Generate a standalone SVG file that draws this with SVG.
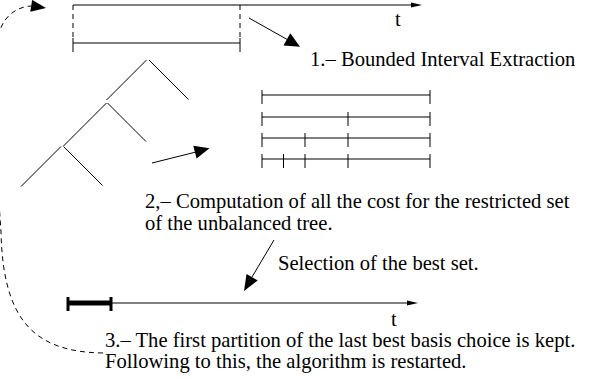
<svg xmlns="http://www.w3.org/2000/svg" width="592" height="379" viewBox="0 0 592 379">
  <style>
    .ln { stroke: #000; stroke-width: 1; fill: none; }
    .dash { stroke: #000; stroke-width: 1; fill: none; stroke-dasharray: 5 4; }
    .head { fill: #000; stroke: none; }
    .lbl { font-family: "Liberation Serif", "Times New Roman", serif; font-size: 20.6px; fill: #000; }
  </style>
  <rect width="592" height="379" fill="#fff"/>

  <!-- time axis with the bounded interval taken from it -->
  <g id="axis-top">
    <line class="ln" x1="73" y1="5" x2="412" y2="5"/>
    <polygon class="head" points="422,5 411,2.5 411,7.5"/>
    <text class="lbl" x="395" y="26">t</text>
  </g>
  <g id="bounded-interval">
    <line class="dash" x1="73" y1="5" x2="73" y2="38"/>
    <line class="dash" x1="240" y1="5" x2="240" y2="38"/>
    <line class="ln" x1="73" y1="43" x2="240" y2="43"/>
    <line class="ln" x1="73" y1="38" x2="73" y2="52"/>
    <line class="ln" x1="240" y1="38" x2="240" y2="52"/>
  </g>
  <g id="label-1">
    <text class="lbl" x="310" y="66">1.– Bounded Interval Extraction</text>
  </g>

  <!-- unbalanced tree -->
  <g id="tree">
    <line class="ln" x1="146.5" y1="60" x2="106.5" y2="100"/>
    <line class="ln" x1="149" y1="60" x2="188.5" y2="99.5"/>
    <line class="ln" x1="106.5" y1="103" x2="63.5" y2="146"/>
    <line class="ln" x1="107.5" y1="103" x2="146" y2="141.5"/>
    <line class="ln" x1="61" y1="146.5" x2="21" y2="186.5"/>
    <line class="ln" x1="63.5" y1="146.5" x2="102.5" y2="185.5"/>
  </g>

  <!-- restricted set of partitions -->
  <g id="interval-sets">
    <line class="ln" x1="262" y1="95" x2="430" y2="95"/>
    <line class="ln" x1="262" y1="90" x2="262" y2="104"/>
    <line class="ln" x1="430" y1="90" x2="430" y2="104"/>

    <line class="ln" x1="262" y1="117" x2="430" y2="117"/>
    <line class="ln" x1="262" y1="112" x2="262" y2="126"/>
    <line class="ln" x1="348" y1="112" x2="348" y2="126"/>
    <line class="ln" x1="430" y1="112" x2="430" y2="126"/>

    <line class="ln" x1="262" y1="138" x2="430" y2="138"/>
    <line class="ln" x1="262" y1="133" x2="262" y2="147"/>
    <line class="ln" x1="305" y1="133" x2="305" y2="147"/>
    <line class="ln" x1="348" y1="133" x2="348" y2="147"/>
    <line class="ln" x1="430" y1="133" x2="430" y2="147"/>

    <line class="ln" x1="262" y1="159" x2="430" y2="159"/>
    <line class="ln" x1="262" y1="154" x2="262" y2="168"/>
    <line class="ln" x1="283.5" y1="154" x2="283.5" y2="168"/>
    <line class="ln" x1="305" y1="154" x2="305" y2="168"/>
    <line class="ln" x1="348" y1="154" x2="348" y2="168"/>
    <line class="ln" x1="430" y1="154" x2="430" y2="168"/>
  </g>
  <g id="label-2">
    <text class="lbl" x="145" y="208">2,– Computation of all the cost for the restricted set</text>
    <text class="lbl" x="145" y="230">of the unbalanced tree.</text>
  </g>
  <g id="label-selection">
    <text class="lbl" x="278" y="270">Selection of the best set.</text>
  </g>

  <!-- time axis with the kept first partition -->
  <g id="axis-bottom">
    <line class="ln" x1="111" y1="303" x2="408" y2="303"/>
    <polygon class="head" points="418,303 407,300.5 407,305.5"/>
    <line x1="68" y1="303" x2="111" y2="303" stroke="#000" stroke-width="5"/>
    <line x1="68" y1="297" x2="68" y2="311" stroke="#000" stroke-width="3"/>
    <line x1="111" y1="297" x2="111" y2="311" stroke="#000" stroke-width="3"/>
    <text class="lbl" x="391" y="326">t</text>
  </g>
  <g id="label-3">
    <text class="lbl" x="105" y="347">3.– The first partition of the last best basis choice is kept.</text>
    <text class="lbl" x="105" y="368">Following to this, the algorithm is restarted.</text>
  </g>

  <!-- connectors -->
  <g id="connectors">
    <path class="dash" d="M103,353 C32,352 3,318 1,232 C-4,160 -10,70 0,30 C5,16 16,7 31,6"/>
    <polygon class="head" points="46,8 30.3,11.7 32.1,-0.1"/>

    <line class="ln" x1="249" y1="18" x2="287" y2="39.4"/>
    <polygon class="head" points="300,46.7 283.5,45.5 290.3,33.3"/>

    <line class="ln" x1="152" y1="163" x2="196" y2="152"/>
    <polygon class="head" points="209.5,148.3 196.6,158.4 193.3,145.8"/>

    <line class="ln" x1="274" y1="240" x2="252" y2="277"/>
    <polygon class="head" points="244,291 257.7,280.5 246.5,273.9"/>
  </g>
</svg>
